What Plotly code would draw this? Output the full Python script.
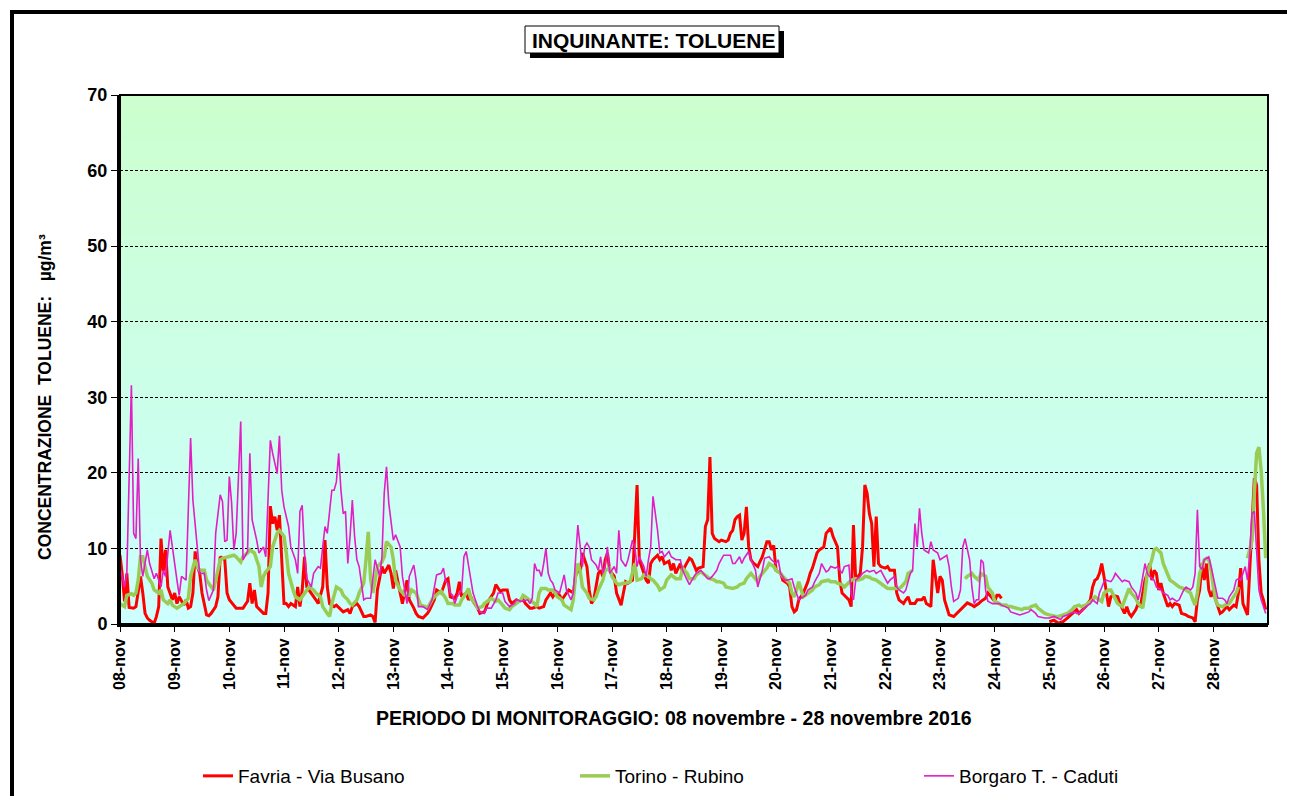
import pandas as pd
import plotly.graph_objects as go

# hourly toluene values (µg/m³); hour 0 = 08-nov 00:00, None = missing
START = pd.Timestamp("2016-11-08 00:00")
DAYS = pd.date_range("2016-11-08", "2016-11-28", freq="D")
DAY_LABELS = ["08-nov", "09-nov", "10-nov", "11-nov", "12-nov", "13-nov", "14-nov",
              "15-nov", "16-nov", "17-nov", "18-nov", "19-nov", "20-nov", "21-nov",
              "22-nov", "23-nov", "24-nov", "25-nov", "26-nov", "27-nov", "28-nov"]

favria = [
    (0, 9.1), (1, 6.5), (2, 3.0), (3, 6.7), (4, 2.2), (5, 2.1), (6, 2.1), (7, 2.3), (8, 4.5), (9, 6.3),
    (10, 4.1), (11, 1.4), (12, 0.8), (13, 0.5), (15, 0.1), (16, 1.0), (17, 2.3), (18, 11.3), (19, 7.0),
    (20, 9.8), (21, 4.9), (22, 4.1), (23, 3.2), (24, 4.1), (25, 2.7), (26, 3.6), (28, 2.5), (29, 3.2),
    (30, 2.1), (31, 2.3), (32, 4.1), (33, 9.6), (34, 7.6), (35, 6.7), (36, 4.1), (38, 1.2), (39, 1.1),
    (40, 1.4), (42, 2.3), (43, 3.6), (44, 8.9), (46, 8.5), (47, 4.1), (48, 3.2), (50, 2.5), (51, 2.1),
    (53, 2.1), (54, 2.1), (56, 3.0), (57, 5.4), (58, 2.7), (59, 4.5), (60, 2.3), (62, 1.6), (63, 1.4),
    (64, 1.4), (65, 4.1), (66, 15.6), (67, 13.3), (68, 14.2), (69, 12.4), (70, 14.4), (71, 8.5), (72, 2.7),
    (73, 2.7), (74, 2.3), (75, 2.7), (77, 2.3), (78, 4.9), (79, 2.3), (80, 4.5), (81, 8.9), (82, 4.9),
    (83, 4.5), (84, 4.1), (86, 3.2), (87, 2.7), (89, 4.9), (90, 11.1), (91, 4.9), (92, 2.7), (94, 2.3),
    (95, 2.5), (97, 1.9), (98, 1.6), (100, 1.9), (101, 1.4), (102, 2.3), (104, 2.7), (105, 2.3), (107, 1.0),
    (108, 1.0), (110, 1.2), (111, 1.0), (112, 0.2), (113, 4.5), (115, 7.6), (116, 6.7), (118, 7.8),
    (119, 6.7), (120, 4.7), (121, 7.1), (122, 5.8),
    (123, 4.1), (124, 2.7), (125, 4.5), (126, 5.8), (127, 3.2), (128, 2.7), (129, 2.1), (130, 1.4),
    (131, 1.0), (133, 0.8), (135, 1.4), (136, 1.9), (138, 3.2), (139, 4.5), (141, 4.1), (142, 4.9),
    (143, 5.8), (144, 6.0), (145, 3.6), (147, 3.4), (148, 4.1), (149, 5.6), (150, 3.6), (152, 4.1),
    (153, 3.2), (154, 3.6), (155, 3.0), (157, 2.1), (158, 1.4), (160, 1.6), (161, 2.3), (162, 3.2),
    (164, 4.1), (165, 5.2), (167, 4.3), (168, 4.5), (170, 4.5), (171, 3.2), (172, 2.7), (174, 3.2),
    (175, 3.0), (177, 3.2), (178, 2.7), (180, 2.1), (181, 2.1), (183, 2.3), (184, 2.1), (186, 2.3),
    (187, 3.2), (189, 4.1), (190, 3.6), (191, 4.1), (193, 3.8), (194, 3.2), (196, 4.1), (197, 4.5),
    (199, 4.1), (200, 6.3), (201, 7.6), (202, 6.7), (203, 9.4), (205, 7.6), (206, 4.5), (207, 2.7),
    (208, 3.2), (209, 4.9), (210, 6.7), (211, 7.1), (212, 6.3), (213, 8.5), (214, 9.4), (215, 7.1),
    (217, 6.3), (218, 4.1), (220, 2.5), (221, 4.1), (222, 5.6), (223, 5.4), (225, 5.8), (226, 12.0),
    (227, 18.4), (228, 8.5), (229, 7.6), (230, 6.7), (231, 5.8), (232, 5.4), (233, 8.0), (234, 8.5),
    (236, 9.1), (237, 8.5), (238, 8.9), (239, 8.0), (241, 8.3), (242, 7.1), (243, 8.0), (244, 6.7),
    (246, 8.0), (247, 6.9), (248, 7.6), (250, 8.7), (251, 8.5), (253, 7.1), (254, 7.4), (256, 7.6),
    (257, 12.9), (258, 13.8), (259, 22.1), (260, 12.0), (261, 11.3), (263, 10.9), (264, 11.1),
    (266, 10.9), (267, 11.1), (268, 12.0), (269, 12.4), (270, 13.8), (271, 14.2), (272, 14.4),
    (273, 11.1), (274, 12.0), (275, 15.5), (276, 10.2), (277, 8.5), (278, 8.1), (280, 7.6), (281, 8.3),
    (282, 8.9), (284, 10.9), (285, 10.9), (286, 9.8), (287, 10.4), (288, 7.1), (290, 6.7), (291, 5.8),
    (293, 5.4), (294, 4.9), (295, 2.3), (296, 1.6), (297, 1.9), (298, 3.2), (300, 4.1), (302, 5.6),
    (303, 6.7), (304, 7.4), (305, 8.5), (306, 9.4), (307, 9.8), (309, 10.2), (310, 12.0), (311, 12.4),
    (312, 12.7), (313, 11.6), (315, 10.2), (316, 5.8), (317, 4.1), (318, 3.8), (320, 3.2), (321, 2.3),
    (322, 13.1), (323, 5.8), (325, 6.7), (326, 10.2), (327, 18.4), (328, 17.3), (329, 14.6), (330, 13.3),
    (331, 7.6), (332, 14.2), (333, 8.0), (334, 7.6), (336, 7.4), (337, 7.6), (338, 7.1), (340, 7.1),
    (341, 4.1), (342, 3.2), (344, 2.7), (345, 3.2), (346, 3.6), (347, 2.7), (349, 2.7), (350, 3.2),
    (352, 3.2), (353, 3.6), (354, 2.7), (356, 2.3), (357, 8.5), (358, 6.3), (359, 4.1),
    (360, 6.3), (361, 5.8), (362, 3.2), (364, 1.2), (366, 1.0), (368, 1.6), (370, 2.3), (372, 2.8),
    (374, 2.5), (375, 2.3), (377, 2.7), (378, 3.0), (380, 3.4), (381, 4.1), (383, 3.4), (384, 3.0),
    (385, 3.8), (386, 3.8), (387, 3.4), (388, None), (408, 0.3), (410, 0.5), (412, 0.1), (414, 0.3),
    (416, 0.8), (417, 1.1), (419, 1.6), (420, 1.9), (421, 1.4), (423, 2.1), (424, 2.3), (426, 3.2),
    (427, 4.9), (428, 5.8), (429, 6.0), (430, 6.7), (431, 8.0), (432, 6.3), (433, 4.5), (434, 2.3),
    (435, 3.6), (436, 3.8), (438, 3.6), (439, 2.7), (441, 1.4), (442, 2.3), (443, 1.4), (444, 1.0),
    (446, 1.9), (447, 2.7), (448, 2.3), (450, 5.8), (451, 6.7), (452, 8.0), (453, 5.8), (454, 7.1),
    (455, 6.7), (456, 4.5), (457, 5.4), (458, 4.1), (460, 2.3), (461, 2.7), (462, 2.3), (463, 2.7),
    (465, 2.5), (466, 1.4), (468, 1.2), (469, 1.0), (471, 0.8), (472, 0.3), (473, 3.2), (474, 4.5),
    (475, 8.0), (476, 5.8), (477, 8.0), (478, 4.5), (479, 3.6), (480, 4.5), (481, 3.2), (483, 1.4),
    (484, 1.6), (486, 2.3), (487, 1.9), (489, 2.5), (490, 2.3), (491, 4.1), (492, 7.4), (493, 2.7),
    (495, 1.2), (496, 7.6), (497, 12.9), (498, 19.3), (499, 18.4), (500, 8.5), (501, 4.1), (502, 3.2),
    (503, 1.9),
]

torino = [
    (0, 2.7), (2, 2.3), (3, 3.8), (5, 4.0), (6, 3.8), (7, 4.1), (8, 5.8), (9, 8.9), (10, 8.9), (11, 7.6),
    (12, 6.3), (14, 5.4), (15, 4.5), (17, 4.1), (18, 4.5), (19, 3.2), (21, 2.7), (22, 3.2), (23, 2.5),
    (25, 2.1), (26, 2.3), (28, 2.7), (30, 3.4), (31, 6.3), (33, 8.5), (34, 7.6), (35, 7.1), (37, 7.1),
    (38, 5.8), (40, 4.9), (41, 4.5), (42, 5.8), (44, 8.5), (45, 8.7), (47, 8.9), (48, 8.9), (50, 9.1),
    (51, 8.9), (53, 8.2), (54, 8.9), (56, 9.4), (57, 9.8), (59, 9.4), (60, 8.5), (61, 7.6), (62, 4.9),
    (63, 6.3), (64, 6.9), (66, 7.6), (67, 10.2), (69, 12.0), (70, 12.4), (72, 11.6), (73, 9.4), (74, 6.7),
    (76, 4.5), (77, 3.6), (79, 3.2), (80, 3.6), (82, 4.5), (83, 4.9), (85, 4.5), (86, 4.1), (88, 3.6),
    (89, 2.3), (91, 1.4), (92, 1.0), (93, 2.7), (95, 4.9), (97, 4.5), (98, 3.8), (100, 3.2), (101, 2.7),
    (102, 2.5), (104, 3.2), (105, 4.1), (107, 5.4), (108, 8.5), (109, 12.2), (110, 6.0), (111, 4.1),
    (112, 5.8), (113, 7.6), (115, 8.2), (116, 8.9), (117, 10.9), (119, 10.2), (120, 8.5), (121, 5.8),
    (123, 4.5), (125, 3.8), (127, 3.8), (128, 4.5), (130, 4.1), (131, 3.2), (132, 2.5), (134, 2.3),
    (135, 2.1), (137, 3.2), (138, 3.6), (140, 4.1), (141, 4.3), (143, 3.4), (144, 2.7), (146, 2.7),
    (147, 2.5), (149, 2.5), (150, 3.2), (152, 4.1), (153, 4.7), (154, 3.4), (156, 2.7), (157, 2.1),
    (159, 2.3), (160, 2.7), (162, 3.2), (163, 3.4), (165, 3.0), (166, 3.2), (168, 2.5), (169, 2.1),
    (171, 1.9), (172, 2.3), (173, 2.5), (175, 3.0), (176, 3.2), (177, 3.8), (179, 3.4), (180, 3.2),
    (182, 2.7), (183, 2.3), (184, 4.1), (185, 4.7), (187, 4.7), (188, 4.5), (190, 4.5), (191, 4.1),
    (192, 3.6), (194, 3.2), (195, 2.5), (197, 2.1), (198, 1.9), (199, 3.2), (200, 6.3), (201, 8.0),
    (202, 7.1), (203, 4.9), (205, 4.1), (206, 3.4), (208, 3.2), (209, 3.6), (210, 4.5), (212, 5.8),
    (213, 7.1), (215, 7.4), (216, 6.3), (218, 5.4), (219, 5.2), (221, 5.4), (222, 5.4), (224, 5.6),
    (225, 6.7), (226, 8.0), (227, 5.8), (229, 6.0), (230, 6.5), (232, 6.3), (233, 6.0), (234, 5.8),
    (236, 5.1), (237, 4.5), (239, 4.9), (240, 5.8), (242, 6.5), (243, 6.3), (244, 6.0),
    (246, 6.0), (247, 7.4), (249, 6.7), (250, 6.0), (252, 6.0), (253, 6.5), (255, 6.9), (256, 6.7),
    (258, 6.3), (259, 6.0), (261, 5.8), (262, 5.6), (263, 5.6), (265, 5.4), (266, 4.9), (268, 4.7),
    (269, 4.7), (271, 4.9), (272, 5.2), (274, 5.4), (275, 6.0), (277, 6.7), (278, 6.3), (280, 5.6),
    (281, 6.3), (282, 6.7), (284, 7.4), (285, 8.0), (287, 7.6), (288, 7.1), (290, 6.7), (291, 6.3),
    (293, 5.8), (294, 5.4), (295, 4.1), (296, 3.6), (297, 4.5), (298, 5.6), (300, 3.6), (301, 3.8),
    (302, 4.1), (304, 4.5), (305, 4.9), (307, 5.2), (308, 5.6), (310, 5.8), (311, 5.8), (312, 5.6),
    (314, 5.6), (315, 5.4), (317, 5.2), (318, 4.9), (320, 5.4), (321, 5.8), (323, 6.0), (324, 5.8),
    (326, 6.0), (327, 6.3), (329, 6.2), (330, 6.0), (332, 5.8), (333, 5.6), (335, 5.2), (336, 4.9),
    (337, 4.7), (339, 4.7), (340, 4.7), (342, 4.7), (343, 4.9), (345, 5.6), (346, 6.7), (348, 7.1),
    (349, None), (371, 6.0), (372, 6.3), (374, 6.7), (375, 6.3), (377, 5.8), (378, 6.7), (380, 6.3),
    (381, 4.9), (383, 4.1), (384, 3.0), (386, 2.7), (387, 2.5), (389, 2.5), (390, 2.3), (391, 2.3),
    (393, 2.1), (394, 2.1), (396, 1.9), (397, 2.1), (399, 2.1), (400, 2.3), (402, 2.5), (403, 2.1),
    (405, 1.6), (406, 1.4), (408, 1.2), (409, 1.1), (411, 1.0), (412, 1.0), (413, 1.1), (415, 1.2),
    (416, 1.4), (418, 1.9), (419, 2.3), (421, 2.5), (422, 2.3), (424, 2.5), (425, 2.7), (427, 3.2),
    (428, 3.6), (430, 3.2), (431, 3.0), (432, 4.1), (434, 4.5), (435, 4.5), (437, 3.4), (438, 2.7),
    (440, 2.3), (441, 3.2), (443, 4.7), (444, 4.1), (446, 3.4), (447, 2.7), (449, 2.1), (450, 4.1),
    (451, 6.7), (453, 8.5), (454, 9.8), (455, 10.0), (457, 9.4), (458, 8.0), (460, 6.7), (461, 5.8),
    (462, 5.6), (464, 5.2), (465, 4.9), (467, 4.7), (468, 4.5), (470, 4.1), (471, 3.2), (472, 2.5),
    (473, 4.1), (474, 6.7), (476, 8.5), (477, 8.7), (478, 8.5), (479, 7.1), (480, 4.9), (481, 3.2),
    (482, 2.5), (484, 2.3), (485, 2.5), (487, 2.7), (488, 3.2), (490, 4.1), (491, 4.9), (493, None),
    (495, 8.7), (496, 10.0), (497, 11.1), (498, 17.3), (499, 22.6), (500, 23.4), (501, 20.3),
    (502, 15.1), (503, 8.7),
]

borgaro = [
    (0, 7.5), (2, 4.9), (3, 6.7), (5, 31.6), (6, 12.0), (7, 11.3), (8, 21.9), (9, 8.5), (10, 6.3),
    (12, 9.8), (13, 8.0), (15, 6.0), (16, 6.7), (18, 4.9), (19, 7.1), (20, 6.3), (22, 12.4), (24, 7.6),
    (25, 5.8), (26, 3.8), (27, 6.3), (29, 5.8), (30, 16.4), (31, 24.6), (32, 16.4), (34, 9.4), (35, 6.7),
    (37, 6.7), (38, 4.5), (39, 3.1), (41, 4.5), (42, 12.0), (44, 17.1), (45, 16.2), (46, 10.9),
    (47, 11.1), (48, 19.5), (49, 16.0), (50, 9.8), (51, 12.0), (52, 20.8), (53, 26.8), (54, 8.5),
    (56, 9.6), (57, 22.6), (58, 13.8), (60, 11.1), (61, 9.4), (63, 10.2), (64, 8.9), (66, 24.3),
    (67, 22.6), (69, 19.9), (70, 24.9), (71, 17.7), (72, 15.5), (74, 12.9), (75, 10.2), (77, 8.5),
    (78, 6.7), (79, 14.9), (80, 15.7), (81, 9.4), (82, 6.0), (84, 4.9), (85, 6.7), (87, 7.6), (88, 7.4),
    (89, 10.2), (90, 12.9), (91, 12.0), (93, 17.7), (94, 17.7), (95, 18.8), (96, 22.6), (97, 17.7),
    (98, 14.6), (99, 14.9), (100, 8.0), (101, 11.6), (102, 16.4), (103, 11.6), (104, 8.5), (105, 7.6),
    (107, 3.2), (108, 3.4), (110, 3.4), (111, 5.8), (112, 8.5), (114, 6.3), (115, 8.9), (116, 17.3),
    (117, 20.8), (118, 16.0), (120, 11.1), (121, 11.8),
    (123, 10.2), (124, 6.3), (125, 4.5), (126, 2.7), (127, 6.3), (129, 7.8), (130, 5.8), (131, 2.3),
    (133, 2.3), (135, 1.9), (137, 3.2), (138, 4.9), (139, 6.5), (141, 6.7), (142, 7.4), (143, 5.6),
    (144, 5.4), (145, 4.1), (146, 3.8), (147, 2.7), (148, 3.6), (150, 4.5), (151, 8.9), (152, 9.6),
    (154, 6.3), (155, 4.1), (157, 2.3), (158, 1.6), (160, 1.4), (161, 2.1), (163, 2.1), (165, 3.2),
    (166, 4.1), (168, 4.1), (169, 3.0), (171, 2.3), (173, 2.7), (174, 3.2), (176, 3.0), (177, 3.1),
    (179, 3.2), (180, 2.7), (181, 3.4), (182, 8.0), (183, 7.1), (184, 7.1), (185, 6.3), (186, 8.0),
    (187, 10.0), (188, 6.7), (189, 5.8), (190, 5.4), (191, 4.5), (193, 4.1), (194, 5.4), (195, 6.5),
    (196, 4.5), (198, 3.2), (199, 4.1), (200, 8.5), (201, 13.1), (203, 7.6), (204, 10.2), (205, 10.7),
    (206, 10.2), (207, 8.5), (209, 7.8), (210, 7.1), (211, 8.9), (212, 6.7), (213, 7.6), (214, 10.2),
    (215, 6.7), (217, 7.6), (218, 6.7), (219, 12.4), (220, 8.5), (222, 7.6), (223, 8.5), (225, 11.1),
    (226, 10.2), (227, 7.6), (228, 8.9), (230, 7.6), (231, 6.3), (232, 8.5), (233, 10.2), (234, 16.9),
    (236, 12.4), (237, 9.4), (238, 9.6), (239, 8.9), (241, 9.6), (242, 8.9), (244, 8.5),
    (246, 8.5), (247, 7.1), (249, 5.8), (250, 5.2), (252, 6.3), (253, 6.7), (255, 7.1), (256, 6.7),
    (258, 6.0), (259, 6.0), (260, 6.3), (262, 7.1), (263, 8.0), (265, 9.1), (266, 9.1), (268, 9.1),
    (269, 8.0), (270, 8.0), (272, 8.9), (273, 8.0), (274, 8.7), (276, 9.6), (277, 8.5), (279, 7.1),
    (280, 4.9), (282, 7.1), (283, 8.7), (285, 8.9), (286, 8.5), (288, 8.0), (289, 8.5), (290, 6.7),
    (292, 5.8), (293, 5.8), (295, 6.0), (296, 4.9), (298, 3.2), (299, 3.4), (301, 3.8), (302, 4.5),
    (304, 4.9), (305, 5.6), (307, 6.7), (308, 8.0), (310, 6.9), (311, 7.1), (312, 7.6), (314, 7.4),
    (315, 7.6), (317, 6.7), (318, 7.6), (320, 7.8), (321, 4.1), (322, 3.2), (323, 5.8), (325, 6.3),
    (326, 6.7), (328, 7.1), (329, 6.9), (331, 7.1), (332, 6.7), (334, 7.1), (335, 6.5), (337, 5.4),
    (338, 5.8), (340, 6.3), (341, 4.9), (342, 4.5), (344, 4.1), (345, 4.5), (347, 6.7), (348, 7.1),
    (349, 13.3), (350, 10.2), (351, 15.3), (352, 12.0), (353, 9.8), (355, 9.4), (356, 10.9), (357, 9.8),
    (359, 9.4), (360, 8.5), (363, 9.1), (364, 7.6), (365, 4.9), (366, 3.0), (368, 3.4), (369, 4.5),
    (370, 10.2), (371, 11.3), (373, 8.5), (374, 4.9), (375, 2.7), (376, 3.2), (377, 3.2), (378, 8.5),
    (379, 8.1), (380, 4.5), (381, 3.0), (383, 2.7), (384, 2.7), (386, 2.7), (387, 2.5), (389, 2.3),
    (390, 2.1), (391, 1.6), (393, 1.4), (395, 1.2), (397, 1.4), (399, 1.6), (400, 1.9), (402, 1.4),
    (403, 1.0), (405, 0.8), (406, 0.8), (408, 0.8), (410, 1.0), (413, 0.6), (414, 1.0), (416, 1.2),
    (417, 1.4), (419, 1.6), (420, 1.4), (421, 1.4), (423, 2.1), (424, 2.3), (426, 2.7), (427, 3.2),
    (429, 2.7), (430, 4.1), (432, 5.6), (433, 5.8), (435, 5.6), (436, 6.0), (437, 6.7), (438, 6.3),
    (440, 5.6), (441, 5.8), (443, 5.6), (444, 4.9), (446, 4.1), (447, 3.2), (448, 4.5), (450, 8.0),
    (451, 6.7), (452, 6.3), (454, 5.8), (455, 4.9), (457, 4.5), (458, 4.1), (460, 3.8), (461, 3.2),
    (462, 3.4), (464, 3.0), (465, 3.2), (467, 4.5), (468, 4.9), (470, 4.5), (471, 4.9), (472, 6.7),
    (473, 15.1), (474, 7.6), (475, 7.2), (476, 8.5), (478, 8.9), (479, 7.6), (481, 4.5), (482, 3.4),
    (484, 3.4), (485, 3.2), (486, 2.7), (487, 3.6), (489, 4.5), (490, 5.8), (491, 6.0), (492, 5.8),
    (494, 7.6), (495, 5.8), (496, 9.4), (497, 14.6), (498, 14.9), (499, 10.2), (500, 4.5), (501, 3.2),
    (502, 2.3), (503, 1.4),
]

FONT = "Liberation Sans, Arial, sans-serif"

# page pixel geometry; the figure div sits 8px in from the page corner (body margin)
OFF = 8
W, H = 1295 - OFF, 796 - OFF
PL, PR, PT, PB = 120, 1268, 95, 624


def px(x):
    return (x - PL) / (PR - PL)


def py(y):
    return (PB - y) / (PB - PT)


def series(pairs):
    hours = [h for h, v in pairs]
    x = START + pd.to_timedelta(hours, unit="h")
    y = [v for h, v in pairs]
    return x, y


fig = go.Figure()

styles = [
    ("Favria - Via Busano", favria, "#FF0000", 3, "legend"),
    ("Torino - Rubino", torino, "#99CC55", 3.5, "legend2"),
    ("Borgaro T. - Caduti", borgaro, "#E21EC4", 1.6, "legend3"),
]
for name, pairs, color, width, leg in styles:
    x, y = series(pairs)
    fig.add_trace(go.Scatter(x=x, y=y, name=name, mode="lines",
                             line=dict(color=color, width=width),
                             legend=leg, hoverinfo="skip"))

shapes = []
# vertical gradient of the plot background: cyan at 0, light green at 70
for i in range(70):
    t = (i + 0.5) / 70
    b = round(255 - 51 * t)
    shapes.append(dict(type="rect", xref="paper", yref="y", x0=0, x1=1, y0=i, y1=i + 1,
                       fillcolor=f"rgb(204,255,{b})", line=dict(width=0), layer="below"))
# plot frame
shapes.append(dict(type="rect", xref="paper", yref="paper", x0=0, x1=1, y0=0, y1=1,
                   line=dict(color="black", width=2), layer="above"))
# outer frame (top and left only)
shapes.append(dict(type="line", xref="paper", yref="paper", x0=px(10), x1=px(1300),
                   y0=py(12), y1=py(12), line=dict(color="black", width=4)))
shapes.append(dict(type="line", xref="paper", yref="paper", x0=px(12), x1=px(12),
                   y0=py(10), y1=py(800), line=dict(color="black", width=4)))
# title box with shadow
shapes.append(dict(type="rect", xref="paper", yref="paper", x0=px(530), x1=px(784),
                   y0=py(58), y1=py(31), fillcolor="black", line=dict(width=0)))
shapes.append(dict(type="rect", xref="paper", yref="paper", x0=px(525), x1=px(779),
                   y0=py(53), y1=py(26), fillcolor="white", line=dict(color="black", width=1)))

annotations = [
    dict(text="<b>INQUINANTE: TOLUENE</b>", x=px(653), y=py(41), xref="paper", yref="paper",
         xanchor="center", yanchor="middle", showarrow=False,
         font=dict(family=FONT, size=21, color="black")),
    dict(text="<b>CONCENTRAZIONE  TOLUENE:   µg/m³</b>", x=px(45), y=py(397),
         xref="paper", yref="paper", xanchor="center", yanchor="middle",
         showarrow=False, textangle=-90,
         font=dict(family=FONT, size=17.5, color="black")),
    dict(text="<b>PERIODO DI MONITORAGGIO: 08 novembre - 28 novembre 2016</b>", x=px(674),
         y=py(718), xref="paper", yref="paper", xanchor="center", yanchor="middle",
         showarrow=False, font=dict(family=FONT, size=19.5, color="black")),
]

legend_common = dict(orientation="h", xref="container", yref="container", yanchor="middle",
                     xanchor="left", bgcolor="rgba(0,0,0,0)", borderwidth=0,
                     font=dict(family=FONT, size=19, color="black"))
ly = 1 - (776 - OFF) / H

fig.update_layout(
    width=W, height=H,
    margin=dict(l=PL - OFF, r=1295 - PR, t=PT - OFF, b=796 - PB),
    paper_bgcolor="white", plot_bgcolor="#CCFFFF",
    font=dict(family=FONT, color="black"),
    shapes=shapes, annotations=annotations,
    showlegend=True,
    legend=dict(x=(198 - OFF) / W, y=ly, **legend_common),
    legend2=dict(x=(575 - OFF) / W, y=ly, **legend_common),
    legend3=dict(x=(919 - OFF) / W, y=ly, **legend_common),
    xaxis=dict(
        type="date", range=[START, START + pd.Timedelta(days=21)],
        tickvals=DAYS, ticktext=DAY_LABELS, tickangle=-90,
        tickfont=dict(family=FONT, size=16, color="black", weight="bold"),
        ticks="outside", ticklen=5, tickcolor="black",
        showgrid=False, showline=True, linecolor="black", linewidth=3, zeroline=False,
    ),
    yaxis=dict(
        range=[0, 70], tickvals=[0, 10, 20, 30, 40, 50, 60, 70],
        tickfont=dict(family=FONT, size=18, color="black", weight="bold"),
        ticks="outside", ticklen=6, tickcolor="black",
        showgrid=True, gridcolor="black", gridwidth=1, griddash="3px,2px",
        showline=True, linecolor="black", linewidth=3, zeroline=False,
    ),
)

fig.write_html("out.html")
